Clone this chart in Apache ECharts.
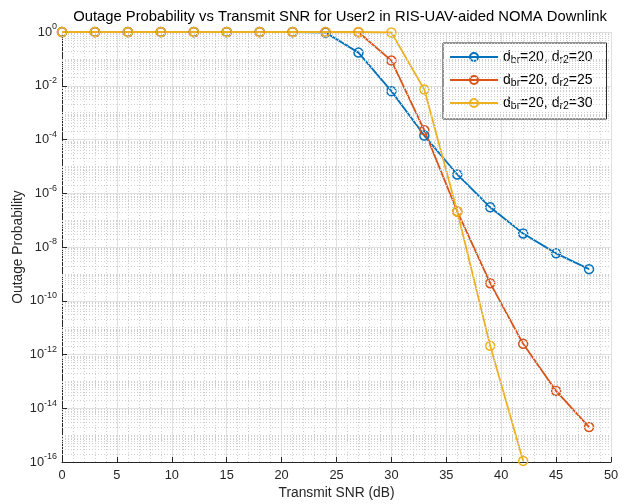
<!DOCTYPE html>
<html>
<head>
<meta charset="utf-8">
<title>Outage Probability vs Transmit SNR</title>
<script src="https://cdn.jsdelivr.net/npm/echarts@6/dist/echarts.min.js"></script>
<style>
  html, body { margin: 0; padding: 0; background: #ffffff; }
  #chart { width: 637px; height: 504px; }
</style>
</head>
<body>
<div id="chart"></div>
<script>
// Transmit SNR sample points (dB)
const snrDb = [0, 3, 6, 9, 12, 15, 18, 21, 24, 27, 30, 33, 36, 39, 42, 45, 48];

// Outage probability of User2, d_br = 20 for every curve
const poutDr2_20 = [1, 1, 1, 1, 1, 1, 1, 1, 0.95, 0.171, 6.3e-3, 1.4e-4, 5.0e-6, 3.0e-7, 3.2e-8, 5.8e-9, 1.5e-9];
const poutDr2_25 = [1, 1, 1, 1, 1, 1, 1, 1, 1, 0.98, 8.65e-2, 2.2e-4, 2.1e-7, 4.5e-10, 2.5e-12, 4.4e-14, 2.0e-15];
const poutDr2_30 = [1, 1, 1, 1, 1, 1, 1, 1, 1, 1, 0.96, 7.2e-3, 2.1e-7, 2.1e-12, 1.1e-16];

const seriesNames = ['d_br=20, d_r2=20', 'd_br=20, d_r2=25', 'd_br=20, d_r2=30'];
const seriesValues = [poutDr2_20, poutDr2_25, poutDr2_30];
const seriesColors = ['#0072BD', '#D95319', '#EDB120'];

// Axis ranges: x in dB, y in decades (log10 of the probability)
const xTicks = [0, 5, 10, 15, 20, 25, 30, 35, 40, 45, 50];
const yDecadeMin = -16;
const yDecadeMax = 0;
const yDecadeStep = 2;

const FONT = '"Liberation Sans", Arial, Helvetica, sans-serif';
const AXIS_COLOR = '#262626';

// Minor log grid: k·10^n for k = 2..9, plus the unlabeled odd decades
const minorGridLevels = [];
for (let n = yDecadeMin; n < yDecadeMax; n++) {
  if ((n - yDecadeMin) % yDecadeStep !== 0) minorGridLevels.push(n);
  for (let k = 2; k <= 9; k++) minorGridLevels.push(n + Math.log10(k));
}

// Legend text with subscripts: "d_br" -> d + subscript "br"
function legendRich(name) {
  return name.split(/(d_\w+)/).filter(s => s.length).map(part => {
    const m = part.match(/^d_(\w+)$/);
    return m ? '{t|d}{s|' + m[1] + '}' : '{t|' + part + '}';
  }).join('');
}

const chart = echarts.init(document.getElementById('chart'), null, { renderer: 'canvas' });

const dataSeries = seriesNames.map((name, i) => ({
  name: name,
  type: 'line',
  z: 3,
  clip: false,
  data: seriesValues[i].map((p, j) => [snrDb[j], Math.log10(p)]),
  symbol: 'circle',
  symbolSize: 9,
  lineStyle: { color: seriesColors[i], width: 1.8 },
  itemStyle: { color: 'rgba(255,255,255,0)', borderColor: seriesColors[i], borderWidth: 1.5 },
  emphasis: { disabled: true }
}));

const minorGridSeries = {
  name: 'minor grid',
  type: 'line',
  z: 1,
  data: [],
  silent: true,
  markLine: {
    silent: true,
    animation: false,
    symbol: ['none', 'none'],
    label: { show: false },
    emphasis: { disabled: true },
    lineStyle: { color: '#cfcfcf', width: 1, type: [1, 2] },
    data: minorGridLevels.map(v => ({ yAxis: v }))
  }
};

chart.setOption({
  animation: false,
  backgroundColor: '#ffffff',
  title: {
    text: 'Outage Probability vs Transmit SNR for User2 in RIS-UAV-aided NOMA Downlink',
    left: 335,
    top: 4,
    textAlign: 'center',
    textStyle: { fontFamily: FONT, fontSize: 14.8, fontWeight: 'normal', color: '#000000' }
  },
  grid: { left: 62, right: 26, top: 32, bottom: 42, containLabel: false, outerBoundsMode: 'none' },
  legend: {
    data: seriesNames,
    orient: 'vertical',
    left: 443,
    top: 43,
    itemWidth: 48,
    itemHeight: 10,
    itemGap: 7,
    padding: [7, 14, 7, 6],
    borderColor: AXIS_COLOR,
    borderWidth: 1,
    borderRadius: 0,
    backgroundColor: '#ffffff',
    selectedMode: false,
    formatter: legendRich,
    textStyle: {
      fontFamily: FONT,
      color: '#000000',
      rich: {
        t: { fontFamily: FONT, fontSize: 14, color: '#000000', lineHeight: 18 },
        s: { fontFamily: FONT, fontSize: 10.5, color: '#000000', lineHeight: 18, verticalAlign: 'bottom' }
      }
    }
  },
  xAxis: {
    type: 'value',
    min: xTicks[0],
    max: xTicks[xTicks.length - 1],
    interval: xTicks[1] - xTicks[0],
    name: 'Transmit SNR (dB)',
    nameLocation: 'middle',
    nameGap: 24,
    nameMoveOverlap: false,
    nameTextStyle: { fontFamily: FONT, fontSize: 13.8, color: AXIS_COLOR },
    axisLine: { show: true, onZero: false, lineStyle: { color: AXIS_COLOR, width: 1 } },
    axisTick: { show: true, inside: true, length: 5, lineStyle: { color: AXIS_COLOR } },
    axisLabel: { margin: 7, fontFamily: FONT, fontSize: 12.8, color: AXIS_COLOR },
    splitLine: { show: true, lineStyle: { color: '#e0e0e0', width: 1 } },
    minorTick: { show: false, splitNumber: 5 },
    minorSplitLine: { show: true, lineStyle: { color: '#cfcfcf', width: 1, type: [1, 2] } }
  },
  yAxis: {
    type: 'value',
    min: yDecadeMin,
    max: yDecadeMax,
    interval: yDecadeStep,
    name: 'Outage Probability',
    nameLocation: 'middle',
    nameGap: 37,
    nameMoveOverlap: false,
    nameTextStyle: { fontFamily: FONT, fontSize: 13.8, color: AXIS_COLOR },
    axisLine: { show: true, onZero: false, lineStyle: { color: AXIS_COLOR, width: 1 } },
    axisTick: { show: true, inside: true, length: 5, lineStyle: { color: AXIS_COLOR } },
    axisLabel: {
      margin: 5,
      formatter: v => '{b|10}{e|' + (v === 0 ? '0' : String(v)) + '}',
      rich: {
        b: { fontFamily: FONT, fontSize: 12.8, color: AXIS_COLOR, lineHeight: 19 },
        e: { fontFamily: FONT, fontSize: 9, color: AXIS_COLOR, lineHeight: 19, verticalAlign: 'top' }
      }
    },
    splitLine: { show: true, lineStyle: { color: '#e0e0e0', width: 1 } }
  },
  series: [minorGridSeries].concat(dataSeries)
});
</script>
</body>
</html>
